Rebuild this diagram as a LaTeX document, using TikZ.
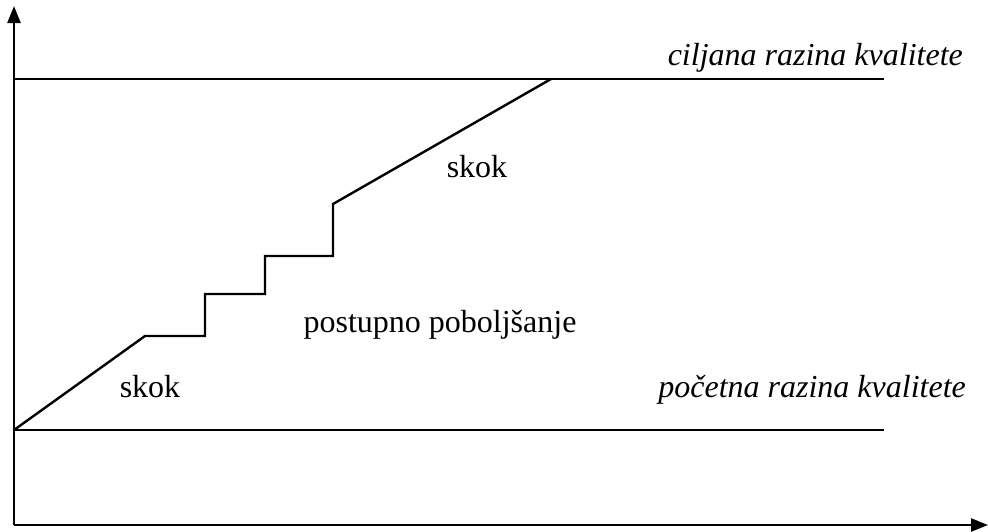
\documentclass[tikz,border=0pt]{standalone}
\usepackage{fontspec}
\setmainfont{Liberation Serif}
\usetikzlibrary{arrows.meta}
\begin{document}
\begin{tikzpicture}[x=1pt,y=-1pt,
  ln/.style={line width=2.4pt},
  ax/.style={line width=2.4pt,-{Triangle[length=17pt,width=13pt]}},
  lbl/.style={font=\fontsize{32}{36}\selectfont,inner sep=0pt,anchor=base},
  ilbl/.style={font=\fontsize{32}{36}\selectfont\itshape,inner sep=0pt,anchor=base east}]
\useasboundingbox (0,0) rectangle (988,531);
\coordinate (o) at (14,525);
\coordinate (ytip) at (14,6);
\coordinate (xtip) at (988,525);
\coordinate (tl) at (14,79);
\coordinate (tr) at (884,79);
\coordinate (bl) at (14,430);
\coordinate (br) at (884,430);
\draw[ax] (o) -- (ytip);
\draw[ax] (o) -- (xtip);
\draw[ln] (tl) -- (tr);
\draw[ln] (bl) -- (br);
\coordinate (p1) at (145,336);
\coordinate (p2) at (205,336);
\coordinate (p3) at (205,294);
\coordinate (p4) at (265,294);
\coordinate (p5) at (265,256);
\coordinate (p6) at (333,256);
\coordinate (p7) at (333,204);
\coordinate (p8) at (551,79);
\draw[ln,line join=miter] (bl) -- (p1) -- (p2) -- (p3) -- (p4) -- (p5) -- (p6) -- (p7) -- (p8);
\node[lbl] (s1) at (477,177) {skok};
\node[lbl] (s2) at (150,397) {skok};
\node[lbl] (pp) at (440,332) {postupno poboljšanje};
\node[ilbl] (cr) at (963,65) {ciljana razina kvalitete};
\node[ilbl] (pr) at (966,397) {početna razina kvalitete};
\end{tikzpicture}
\end{document}
